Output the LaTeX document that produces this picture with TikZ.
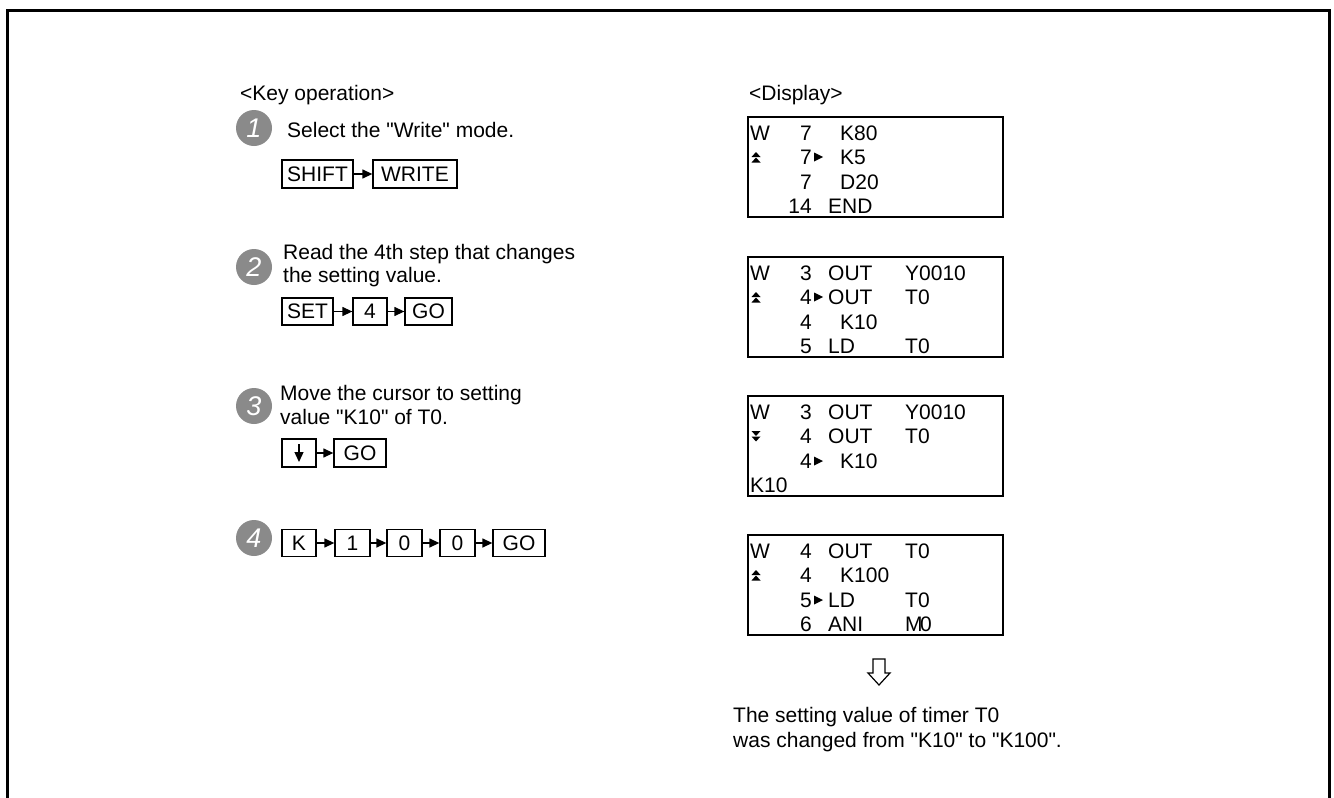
\documentclass[tikz,border=0pt]{standalone}
\usepackage{fontspec}
\setmainfont{Liberation Sans}[Ligatures=TeXOff]
\usetikzlibrary{arrows.meta}
\definecolor{numgray}{RGB}{138,138,138}
\begin{document}
\begin{tikzpicture}[x=1pt,y=-1pt,
  keybox/.style={draw, line width=1.3pt, inner sep=0pt, font=\fontsize{21}{25}\selectfont, minimum height=27pt},
  txt/.style={anchor=base west, inner sep=0pt, font=\fontsize{21}{25}\selectfont},
  rtxt/.style={anchor=base east, inner sep=0pt, font=\fontsize{21}{25}\selectfont},
  lcd/.style={draw, line width=2pt, inner sep=0pt, minimum width=255pt, minimum height=100pt},
  stepnum/.style={circle, fill=numgray, minimum size=36pt, inner sep=0pt, text=white, font=\fontsize{27}{27}\selectfont\itshape},
  karrow/.style={-{Triangle[length=10pt,width=9pt]}, line width=1.3pt},
  lcdmark/.style={fill=black}
]
\useasboundingbox (0,0) rectangle (1334,798);
% frame
\draw[line width=3pt] (7.5,800) -- (7.5,10.5) -- (1329.5,10.5) -- (1329.5,800);

% headings
\node[txt] (hkey) at (240,100) {<Key operation>};
\node[txt] (hdisp) at (749,100) {<Display>};

% step 1
\node[stepnum] (c1) at (254,128) {1};
\node[txt] (t1) at (287,137.5) {Select the "Write" mode.};
\node[keybox, minimum width=71pt, minimum height=28pt] (k1a) at (317.5,174) {SHIFT};
\node[keybox, minimum width=84pt, minimum height=28pt] (k1b) at (415,174) {WRITE};
\draw[karrow] (k1a) -- (k1b);

% step 2
\node[stepnum] (c2) at (254,267) {2};
\node[txt] (t2a) at (283,259.5) {Read the 4th step that changes};
\node[txt] (t2b) at (283,282.5) {the setting value.};
\node[keybox, minimum width=51pt] (k2a) at (307.5,311.5) {SET};
\node[keybox, minimum width=34pt] (k2b) at (370,311.5) {4};
\node[keybox, minimum width=47pt] (k2c) at (428.5,311.5) {GO};
\draw[karrow] (k2a) -- (k2b);
\draw[karrow] (k2b) -- (k2c);

% step 3
\node[stepnum] (c3) at (254,406) {3};
\node[txt] (t3a) at (280,400.5) {Move the cursor to setting};
\node[txt] (t3b) at (280,424.5) {value "K10" of T0.};
\node[keybox, minimum width=34pt, minimum height=28pt] (k3a) at (299,453) {};
\coordinate (k3top) at ([yshift=9pt]k3a.center);
\coordinate (k3bot) at ([yshift=-9pt]k3a.center);
\draw[karrow] (k3top) -- (k3bot);
\node[keybox, minimum width=52pt, minimum height=28pt] (k3b) at (360,453) {GO};
\draw[karrow] (k3a) -- (k3b);

% step 4
\node[stepnum] (c4) at (254,538) {4};
\node[keybox, minimum width=34pt] (k4a) at (299,543) {K};
\node[keybox, minimum width=35pt] (k4b) at (352.5,543) {1};
\node[keybox, minimum width=35pt] (k4c) at (404.5,543) {0};
\node[keybox, minimum width=35pt] (k4d) at (457.5,543) {0};
\node[keybox, minimum width=52pt] (k4e) at (519,543) {GO};
\draw[karrow] (k4a) -- (k4b);
\draw[karrow] (k4b) -- (k4c);
\draw[karrow] (k4c) -- (k4d);
\draw[karrow] (k4d) -- (k4e);

% display 1
\node[lcd] (d1) at (875.5,167) {};
\node[txt] (d1w) at (750,140) {W};
\node[rtxt] (d1n1) at (812,140) {7};
\node[txt] (d1o1) at (840,140) {K80};
\fill[lcdmark] (751.5,157) -- (760.5,157) -- (756,152) -- cycle;
\fill[lcdmark] (751.5,162.5) -- (760.5,162.5) -- (756,157.5) -- cycle;
\node[rtxt] (d1n2) at (812,164) {7};
\fill[lcdmark] (814,152.5) -- (814,161.5) -- (823,157) -- cycle;
\node[txt] (d1o2) at (840,164) {K5};
\node[rtxt] (d1n3) at (812,189) {7};
\node[txt] (d1o3) at (840,189) {D20};
\node[rtxt] (d1n4) at (812,213) {14};
\node[txt] (d1i4) at (828,213) {END};

% display 2
\node[lcd] (d2) at (875.5,307) {};
\node[txt] (d2w) at (750,280) {W};
\node[rtxt] (d2n1) at (812,280) {3};
\node[txt] (d2i1) at (828,280) {OUT};
\node[txt] (d2o1) at (905,280) {Y0010};
\fill[lcdmark] (751.5,297) -- (760.5,297) -- (756,292) -- cycle;
\fill[lcdmark] (751.5,302.5) -- (760.5,302.5) -- (756,297.5) -- cycle;
\node[rtxt] (d2n2) at (812,304) {4};
\fill[lcdmark] (814,292.5) -- (814,301.5) -- (823,297) -- cycle;
\node[txt] (d2i2) at (828,304) {OUT};
\node[txt] (d2o2) at (905,304) {T0};
\node[rtxt] (d2n3) at (812,329) {4};
\node[txt] (d2o3) at (840,329) {K10};
\node[rtxt] (d2n4) at (812,353) {5};
\node[txt] (d2i4) at (828,353) {LD};
\node[txt] (d2o4) at (905,353) {T0};

% display 3
\node[lcd] (d3) at (875.5,446) {};
\node[txt] (d3w) at (750,419) {W};
\node[rtxt] (d3n1) at (812,419) {3};
\node[txt] (d3i1) at (828,419) {OUT};
\node[txt] (d3o1) at (905,419) {Y0010};
\fill[lcdmark] (751.5,431) -- (760.5,431) -- (756,436) -- cycle;
\fill[lcdmark] (751.5,436.5) -- (760.5,436.5) -- (756,441.5) -- cycle;
\node[rtxt] (d3n2) at (812,443) {4};
\node[txt] (d3i2) at (828,443) {OUT};
\node[txt] (d3o2) at (905,443) {T0};
\node[rtxt] (d3n3) at (812,468) {4};
\fill[lcdmark] (814,456.5) -- (814,465.5) -- (823,461) -- cycle;
\node[txt] (d3o3) at (840,468) {K10};
\node[txt] (d3e) at (750,492) {K10};

% display 4
\node[lcd] (d4) at (875.5,585) {};
\node[txt] (d4w) at (750,558) {W};
\node[rtxt] (d4n1) at (812,558) {4};
\node[txt] (d4i1) at (828,558) {OUT};
\node[txt] (d4o1) at (905,558) {T0};
\fill[lcdmark] (751.5,575) -- (760.5,575) -- (756,570) -- cycle;
\fill[lcdmark] (751.5,580.5) -- (760.5,580.5) -- (756,575.5) -- cycle;
\node[rtxt] (d4n2) at (812,582) {4};
\node[txt] (d4o2) at (840,582) {K100};
\node[rtxt] (d4n3) at (812,607) {5};
\fill[lcdmark] (814,595.5) -- (814,604.5) -- (823,600) -- cycle;
\node[txt] (d4i3) at (828,607) {LD};
\node[txt] (d4o3) at (905,607) {T0};
\node[rtxt] (d4n4) at (812,631) {6};
\node[txt] (d4i4) at (828,631) {ANI};
\node[txt] (d4o4) at (905,631) {M\kern-2.5pt 0};

% result arrow
\draw[line width=1.2pt, line join=miter] (873,659) -- (885,659) -- (885,673) -- (890,673) -- (879,685) -- (868,673) -- (873,673) -- cycle;

% result text
\node[txt] (r1) at (733,722.5) {The setting value of timer T0};
\node[txt] (r2) at (733,747.5) {was changed from "K10" to "K100".};
\end{tikzpicture}
\end{document}
